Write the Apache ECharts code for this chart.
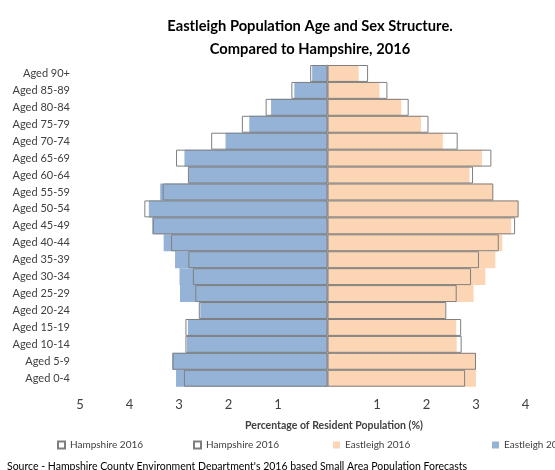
<!DOCTYPE html>
<html>
<head>
<meta charset="utf-8">
<script src="https://cdn.jsdelivr.net/npm/echarts@6/dist/echarts.min.js"></script>
<style>
  html, body { margin: 0; padding: 0; background: #fff; }
  #chart { width: 555px; height: 470px; }
</style>
</head>
<body>
<div id="chart"></div>
<script>
// Categories, bottom to top
var categories = ['Aged 0-4','Aged 5-9','Aged 10-14','Aged 15-19','Aged 20-24','Aged 25-29','Aged 30-34','Aged 35-39','Aged 40-44','Aged 45-49','Aged 50-54','Aged 55-59','Aged 60-64','Aged 65-69','Aged 70-74','Aged 75-79','Aged 80-84','Aged 85-89','Aged 90+'];

// Left side (%)
var eastleighLeft  = [3.06,3.14,2.84,2.82,2.57,2.98,2.99,3.08,3.31,3.54,3.61,3.38,2.80,2.89,2.06,1.58,1.14,0.67,0.31];
var hampshireLeft  = [2.90,3.13,2.87,2.87,2.60,2.67,2.72,2.81,3.16,3.53,3.70,3.33,2.82,3.06,2.35,1.73,1.25,0.73,0.35];
// Right side (%)
var eastleighRight = [3.00,3.00,2.61,2.60,2.38,2.95,3.19,3.39,3.53,3.71,3.86,3.34,2.87,3.12,2.33,1.89,1.49,1.05,0.63];
var hampshireRight = [2.78,3.00,2.71,2.70,2.40,2.61,2.90,3.06,3.46,3.79,3.86,3.35,2.94,3.31,2.63,2.04,1.64,1.21,0.82];

var titleText = 'Eastleigh Population Age and Sex Structure.\nCompared to Hampshire, 2016';
var axisTitle = 'Percentage of Resident Population (%)';
var sourceText = "Source - Hampshire County Environment Department's 2016 based Small Area Population Forecasts";

var FONT = 'Lato';
var neg = function (arr) { return arr.map(function (v) { return -v; }); };

var chart = echarts.init(document.getElementById('chart'), null, { renderer: 'canvas' });

var hampStyle = { color: 'rgba(255,255,255,0)', borderColor: '#7f7f7f', borderWidth: 1 };

function legendAt(x, name) {
  return {
    data: [name], left: x, top: 440, padding: 0,
    icon: 'rect', itemWidth: 7, itemHeight: 7, itemGap: 0,
    textStyle: { fontFamily: FONT, fontSize: 10, color: '#404040' }
  };
}

chart.setOption({
  animation: false,
  backgroundColor: '#fff',
  title: [
    { text: titleText, left: 305, top: 10, textAlign: 'center',
      textStyle: { fontFamily: FONT, fontSize: 14.7, fontWeight: 'bold', color: '#000', lineHeight: 23 } },
    { text: axisTitle, left: 329, top: 415, textAlign: 'center',
      textStyle: { fontFamily: FONT, fontSize: 10.5, fontWeight: 'bold', color: '#404040' } },
    { text: sourceText, left: 2, top: 456,
      textStyle: { fontFamily: FONT, fontSize: 10.5, fontWeight: 'normal', color: '#000' } }
  ],
  legend: [
    legendAt(57, 'Hampshire 2016'),
    legendAt(193, 'Hampshire 2016 '),
    legendAt(333, 'Eastleigh 2016'),
    legendAt(492, 'Eastleigh 2016 ')
  ],
  grid: { left: 80, right: 29.5, top: 65, bottom: 83.3, containLabel: false },
  xAxis: {
    type: 'value', min: -5, max: 4, interval: 1,
    axisLine: { show: false }, axisTick: { show: false }, splitLine: { show: false },
    axisLabel: { margin: 12, fontFamily: FONT, fontSize: 13, color: '#404040',
      formatter: function (v) { return v === 0 ? '' : String(Math.abs(v)); } }
  },
  yAxis: [
    { type: 'category', data: categories,
      axisLine: { show: false, onZero: false }, axisTick: { show: false },
      axisLabel: { margin: 10, fontFamily: FONT, fontSize: 11, color: '#404040' } },
    { type: 'category', data: categories, position: 'left',
      axisLine: { show: true, onZero: true, lineStyle: { color: '#a6a6a6', width: 1 } },
      axisTick: { show: true, length: 3, inside: false, lineStyle: { color: '#595959' } },
      axisLabel: { show: false } }
  ],
  series: [
    { name: 'Eastleigh 2016 ', type: 'bar', yAxisIndex: 0, data: neg(eastleighLeft),
      barWidth: '100%', barGap: '-100%', itemStyle: { color: '#95b3d7' } },
    { name: 'Eastleigh 2016', type: 'bar', yAxisIndex: 0, data: eastleighRight,
      barWidth: '100%', barGap: '-100%', itemStyle: { color: '#fcd5b5' } },
    { name: 'Hampshire 2016', type: 'bar', yAxisIndex: 0, data: neg(hampshireLeft),
      barWidth: '100%', barGap: '-100%', itemStyle: hampStyle },
    { name: 'Hampshire 2016 ', type: 'bar', yAxisIndex: 0, data: hampshireRight,
      barWidth: '100%', barGap: '-100%', itemStyle: hampStyle }
  ]
});
</script>
</body>
</html>
